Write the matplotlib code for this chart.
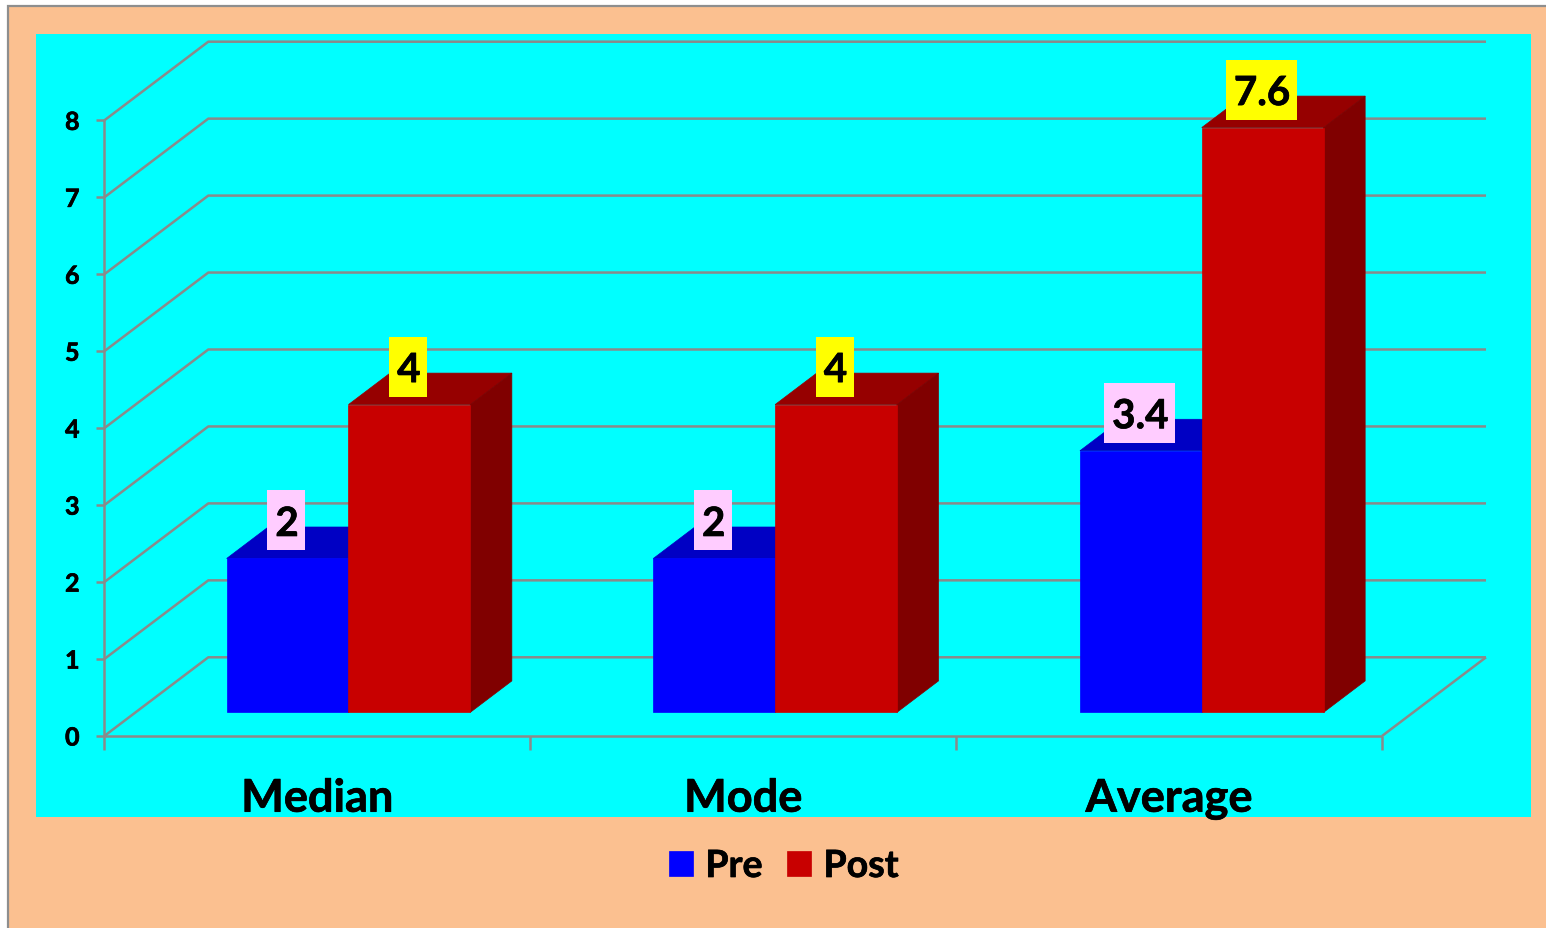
import matplotlib
matplotlib.use("Agg")
import matplotlib.pyplot as plt
import matplotlib.patheffects as pe
from matplotlib.patches import Rectangle, Polygon
from matplotlib.transforms import Affine2D, ScaledTranslation

# Chart data
categories = ["Median", "Mode", "Average"]
pre_values = [2, 2, 3.4]
post_values = [4, 4, 7.6]
value_ticks = [0, 1, 2, 3, 4, 5, 6, 7, 8]
series_names = ["Pre", "Post"]

# Styling
W, H = 1546, 928
FONT = "Lato"
WEIGHT = "bold"
HEAVY = [pe.withStroke(linewidth=0.5, foreground="black")]
PEACH, CYAN = "#FBC090", "#00FFFF"
GRID = "#8A8A8A"
PRE_FRONT, PRE_TOP = "#0000FF", "#0000C4"
POST_FRONT, POST_TOP, POST_SIDE = "#C80000", "#960000", "#800000"
PRE_BOX, POST_BOX = "#FFCCFF", "#FFFF00"

# Oblique 3D projection: depth 1 shifts a point right and up
X_UNIT = 425.9           # pixels per category
Y_UNIT = 76.95           # pixels per value unit
DEPTH_X = 104 / X_UNIT   # category units per unit of depth
DEPTH_Y = 78.7 / Y_UNIT  # value units per unit of depth
X0_PX, Y0_PX = 104.3, 736.0
BAR_W = 121.8 / X_UNIT
BAR_STEP = 426.65 / X_UNIT  # spacing of the bar groups along the category axis
D_NEAR, D_FAR = 0.30, 0.70


def proj(x, v, d=0.0):
    return (x + d * DEPTH_X, v + d * DEPTH_Y)


fig = plt.figure(figsize=((W + 0.01) / 100, (H + 0.01) / 100), dpi=100, facecolor="white")
ax = fig.add_axes([0, 0, 1, 1])
ax.set_xlim(-X0_PX / X_UNIT, (W - X0_PX) / X_UNIT)
ax.set_ylim(-(H - Y0_PX) / Y_UNIT, Y0_PX / Y_UNIT)
ax.axis("off")


def panel(x0, y0, x1, y1, **kw):
    ax.add_patch(Rectangle((x0 / W, 1 - y1 / H), (x1 - x0) / W, (y1 - y0) / H,
                           transform=ax.transAxes, **kw))


panel(7.5, 6, W + 5, H + 5, facecolor=PEACH, edgecolor="#8E8E8E", linewidth=1.6, zorder=0)
panel(36, 34, 1531, 816.7, facecolor=CYAN, edgecolor="none", zorder=1)

# Walls, floor and gridlines
n_cat = len(categories)
line_kw = dict(color=GRID, linewidth=1.8, zorder=2, solid_capstyle="butt")
for v in value_ticks:
    a, b, c = proj(0, v), proj(0, v, 1), proj(n_cat, v, 1)
    ax.plot([a[0], b[0], c[0]], [a[1], b[1], c[1]], **line_kw)
a, b = proj(0, 0), proj(n_cat, 0)
ax.plot([a[0], b[0]], [a[1], b[1]], **line_kw)
c = proj(n_cat, 0, 1)
ax.plot([b[0], c[0]], [b[1], c[1]], **line_kw)
ax.plot([0, 0], [0, max(value_ticks)], **line_kw)

# Tick marks and value labels
tick_x = 8 / X_UNIT
tick_y = 14 / Y_UNIT
for v in value_ticks:
    ax.plot([-tick_x, 0], [v, v], **line_kw)
    ax.text(-32 / X_UNIT, v - 2 / Y_UNIT, str(v), ha="center", va="center", fontsize=18,
            fontweight=WEIGHT, family=FONT, color="black", zorder=6, path_effects=HEAVY)
for i in range(n_cat + 1):
    ax.plot([i, i], [0, -tick_y], **line_kw)


def draw_bar(x, value, front, top, side):
    bl = proj(x, 0, D_NEAR)
    br = proj(x + BAR_W, 0, D_NEAR)
    tl = proj(x, value, D_NEAR)
    tr = proj(x + BAR_W, value, D_NEAR)
    btr = proj(x + BAR_W, value, D_FAR)
    btl = proj(x, value, D_FAR)
    bbr = proj(x + BAR_W, 0, D_FAR)
    ax.add_patch(Polygon([tl, tr, btr, btl], closed=True, facecolor=top, edgecolor=top,
                         linewidth=0.5, zorder=3))
    ax.add_patch(Polygon([br, bbr, btr, tr], closed=True, facecolor=side, edgecolor=side,
                         linewidth=0.5, zorder=3))
    return ax.add_patch(Polygon([bl, br, tr, tl], closed=True, facecolor=front, edgecolor=front,
                                linewidth=0.5, zorder=3))


def draw_label(x, value, text, box_color, box_w):
    cx, cy = proj(x + BAR_W / 2, value, D_NEAR)
    offset_px = 38
    box_h = 60
    nudge = -1.5
    tr = Affine2D().translate(nudge, offset_px) + ScaledTranslation(cx, cy, ax.transData)
    ax.add_patch(Rectangle((-box_w / 2, -box_h / 2), box_w, box_h, transform=tr,
                           facecolor=box_color, edgecolor="none", zorder=5))
    ax.annotate(text, xy=(cx, cy), xytext=((nudge + 1) * 0.72, (offset_px - 4) * 0.72),
                textcoords="offset points", ha="center", va="center", fontsize=29,
                fontweight=WEIGHT, family=FONT, color="black", zorder=6, path_effects=HEAVY)


# Paired bars straddle the centre of each category on the near plane
for i, (pre, post) in enumerate(zip(pre_values, post_values)):
    centre = 0.5 + i * BAR_STEP
    h_pre = draw_bar(centre - BAR_W, pre, PRE_FRONT, PRE_TOP, PRE_TOP)
    h_post = draw_bar(centre, post, POST_FRONT, POST_TOP, POST_SIDE)
    draw_label(centre - BAR_W, pre, f"{pre:g}", PRE_BOX, 71 if pre % 1 else 38)
    draw_label(centre, post, f"{post:g}", POST_BOX, 71 if post % 1 else 38)
    ax.text(i + 0.5, -75.7 / Y_UNIT, categories[i], ha="center", va="baseline", fontsize=32.5,
            fontweight=WEIGHT, family=FONT, color="black", zorder=6, path_effects=HEAVY)

# Legend below the plot panel
leg = ax.legend([h_pre, h_post], series_names, loc="center", bbox_to_anchor=(784 / W, 1 - 866 / H),
                bbox_transform=ax.transAxes, frameon=False, ncol=2, handlelength=0.64,
                handleheight=0.64, handletextpad=0.32, columnspacing=0.667,
                prop={"family": FONT, "weight": WEIGHT, "size": 27})
leg.set_zorder(7)
for t in leg.get_texts():
    t.set_path_effects(HEAVY)

fig.savefig("out.png", dpi=100, facecolor="white")
